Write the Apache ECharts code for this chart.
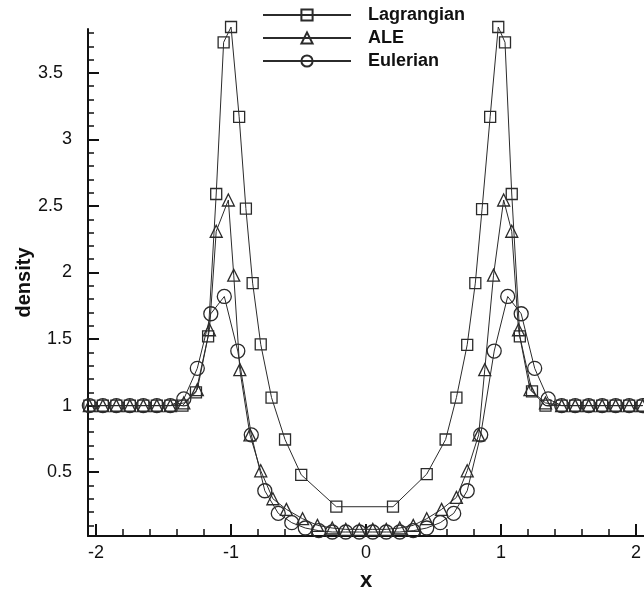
<!DOCTYPE html>
<html lang="en">
<head>
    <meta charset="UTF-8">
    <title>density profiles</title>
    <script src="https://cdn.jsdelivr.net/npm/echarts@6/dist/echarts.min.js"></script>
    <style>
        html, body { margin: 0; padding: 0; background: #fff; }
        #main { width: 644px; height: 591px; }
    </style>
</head>
<body>
<div id="main"></div>
<script>
    // tick marks and labels
    const xMajorTicks = [-2, -1, 0, 1, 2];
    const xMinorTicks = [-1.8, -1.6, -1.4, -1.2, -0.8, -0.6, -0.4, -0.2, 0.2, 0.4, 0.6, 0.8, 1.2, 1.4, 1.6, 1.8];
    const yMajorTicks = [0.5, 1, 1.5, 2, 2.5, 3, 3.5];
    const yMinorTicks = [0.1, 0.2, 0.3, 0.4, 0.6, 0.7, 0.8, 0.9, 1.1, 1.2, 1.3, 1.4, 1.6, 1.7, 1.8, 1.9,
        2.1, 2.2, 2.3, 2.4, 2.6, 2.7, 2.8, 2.9, 3.1, 3.2, 3.3, 3.4, 3.6, 3.7, 3.8];

    const seriesNames = ['Lagrangian', 'ALE', 'Eulerian'];

    // Lagrangian (squares)
    const lagX = [-2.05, -1.95, -1.85, -1.75, -1.65, -1.55, -1.45, -1.36, -1.26, -1.17, -1.11, -1.055, -1.0,
        -0.94, -0.89, -0.84, -0.78, -0.70, -0.60, -0.48, -0.22, 0.20, 0.45, 0.59, 0.67, 0.75, 0.81, 0.86,
        0.92, 0.98, 1.03, 1.08, 1.14, 1.23, 1.33, 1.45, 1.55, 1.65, 1.75, 1.85, 1.95, 2.05];
    const lagY = [1.0, 1.0, 1.0, 1.0, 1.0, 1.0, 1.0, 1.0, 1.1, 1.52, 2.59, 3.73, 3.845,
        3.17, 2.48, 1.92, 1.46, 1.06, 0.745, 0.48, 0.24, 0.24, 0.485, 0.745, 1.06, 1.457, 1.92, 2.476,
        3.17, 3.845, 3.73, 2.59, 1.52, 1.107, 1.0, 1.0, 1.0, 1.0, 1.0, 1.0, 1.0, 1.0];

    // ALE (triangles)
    const aleX = [-2.05, -1.95, -1.85, -1.75, -1.65, -1.55, -1.45, -1.35, -1.25, -1.16, -1.11, -1.02, -0.98,
        -0.935, -0.86, -0.78, -0.69, -0.59, -0.47, -0.36, -0.25, -0.15, -0.05, 0.05, 0.15, 0.25, 0.35, 0.45,
        0.56, 0.67, 0.75, 0.835, 0.88, 0.945, 1.02, 1.08, 1.13, 1.215, 1.33, 1.45, 1.55, 1.65, 1.75, 1.85, 1.95, 2.05];
    const aleY = [1.0, 1.0, 1.0, 1.0, 1.0, 1.0, 1.0, 1.02, 1.12, 1.57, 2.31, 2.545, 1.98,
        1.27, 0.78, 0.51, 0.30, 0.22, 0.15, 0.10, 0.08, 0.07, 0.07, 0.07, 0.07, 0.08, 0.10, 0.15,
        0.22, 0.31, 0.51, 0.78, 1.27, 1.98, 2.545, 2.31, 1.57, 1.12, 1.02, 1.0, 1.0, 1.0, 1.0, 1.0, 1.0, 1.0];

    // Eulerian (circles)
    const eulX = [-2.05, -1.95, -1.85, -1.75, -1.65, -1.55, -1.45, -1.35, -1.25, -1.15, -1.05, -0.95, -0.85,
        -0.75, -0.65, -0.55, -0.45, -0.35, -0.25, -0.15, -0.05, 0.05, 0.15, 0.25, 0.35, 0.45, 0.55, 0.65,
        0.75, 0.85, 0.95, 1.05, 1.15, 1.25, 1.35, 1.45, 1.55, 1.65, 1.75, 1.85, 1.95, 2.05];
    const eulY = [1.0, 1.0, 1.0, 1.0, 1.0, 1.0, 1.0, 1.05, 1.28, 1.69, 1.82, 1.41, 0.78,
        0.36, 0.19, 0.12, 0.08, 0.06, 0.05, 0.05, 0.05, 0.05, 0.05, 0.05, 0.06, 0.08, 0.12, 0.19,
        0.36, 0.78, 1.41, 1.82, 1.69, 1.28, 1.05, 1.0, 1.0, 1.0, 1.0, 1.0, 1.0, 1.0];

    function zip(xs, ys) {
        return xs.map((x, i) => [x, ys[i]]);
    }

    const ink = '#2b2b2b';
    const font = 'Liberation Sans, Arial, sans-serif';

    function makeSeries(name, symbol, size, xs, ys) {
        return {
            name: name,
            type: 'line',
            data: zip(xs, ys),
            symbol: symbol,
            symbolSize: size,
            showAllSymbol: true,
            clip: false,
            lineStyle: { color: ink, width: 1 },
            itemStyle: { color: 'rgba(0,0,0,0)', borderColor: ink, borderWidth: 1.3 },
            emphasis: { disabled: true },
            animation: false
        };
    }

    var myChart = echarts.init(document.getElementById('main'));

    var option = {
        animation: false,
        grid: { left: 88, right: 0, top: 29, bottom: 55, containLabel: false, outerBoundsMode: 'none' },
        legend: {
            orient: 'vertical',
            left: 262,
            top: 6,
            padding: 0,
            itemWidth: 88,
            itemHeight: 14,
            itemGap: 5,
            data: seriesNames,
            textStyle: { fontFamily: font, fontSize: 18, fontWeight: 'bold', color: '#111', padding: [0, 0, 0, 12] }
        },
        xAxis: [{
            type: 'value',
            min: -2.06,
            max: 2.06,
            name: 'x',
            nameLocation: 'middle',
            nameGap: 34,
            nameMoveOverlap: false,
            nameTextStyle: { fontFamily: font, fontSize: 22, fontWeight: 'bold', color: '#111' },
            axisLine: { show: true, onZero: false, lineStyle: { color: '#111', width: 2 } },
            axisTick: { show: true, inside: true, length: 12, lineStyle: { color: '#111', width: 2 }, customValues: xMajorTicks },
            axisLabel: { fontFamily: font, fontSize: 18, color: '#111', margin: 8, customValues: xMajorTicks },
            splitLine: { show: false }
        }, {
            type: 'value',
            position: 'bottom',
            min: -2.06,
            max: 2.06,
            axisLine: { show: false, onZero: false },
            axisTick: { show: true, inside: true, length: 7, lineStyle: { color: '#111', width: 1.5 }, customValues: xMinorTicks },
            axisLabel: { show: false },
            splitLine: { show: false }
        }],
        yAxis: [{
            type: 'value',
            min: 0.02,
            max: 3.83,
            name: 'density',
            nameLocation: 'middle',
            nameGap: 54,
            nameMoveOverlap: false,
            nameTextStyle: { fontFamily: font, fontSize: 20, fontWeight: 'bold', color: '#111' },
            axisLine: { show: true, onZero: false, lineStyle: { color: '#111', width: 2 } },
            axisTick: { show: true, inside: true, length: 11, lineStyle: { color: '#111', width: 2 }, customValues: yMajorTicks },
            axisLabel: {
                fontFamily: font, fontSize: 18, color: '#111', margin: 16, customValues: yMajorTicks,
                formatter: function (v) {
                    return (v > 2 && v % 1 !== 0) ? '{w|' + v + '}' : String(v);
                },
                rich: { w: { fontFamily: font, fontSize: 18, color: '#111', padding: [0, 9, 0, 0] } }
            },
            splitLine: { show: false }
        }, {
            type: 'value',
            position: 'left',
            min: 0.02,
            max: 3.83,
            axisLine: { show: false, onZero: false },
            axisTick: { show: true, inside: true, length: 6, lineStyle: { color: '#111', width: 1.5 }, customValues: yMinorTicks },
            axisLabel: { show: false },
            splitLine: { show: false }
        }],
        series: [
            makeSeries('Lagrangian', 'rect', 11, lagX, lagY),
            makeSeries('ALE', 'triangle', 12, aleX, aleY),
            makeSeries('Eulerian', 'circle', 14, eulX, eulY)
        ]
    };

    myChart.setOption(option);
</script>
</body>
</html>
